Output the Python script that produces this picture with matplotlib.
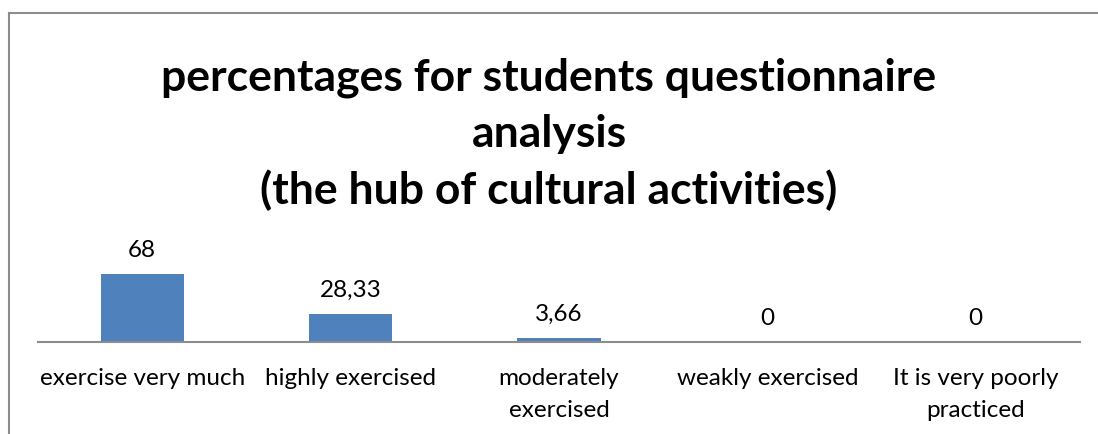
import matplotlib
matplotlib.use("Agg")
import matplotlib.pyplot as plt
from matplotlib.lines import Line2D

categories = ["exercise very much", "highly exercised", "moderately\nexercised",
              "weakly exercised", "It is very poorly\npracticed"]
values = [68, 28.33, 3.66, 0, 0]
value_labels = ["68", "28,33", "3,66", "0", "0"]
title = "percentages for students questionnaire\nanalysis\n(the hub of cultural activities)"

W, H = 1098, 434
fig = plt.figure(figsize=(W / 100, H / 100), dpi=100)
plt.rcParams['font.family'] = ['Lato', 'DejaVu Sans']

# frame (partial chart border)
fig.add_artist(Line2D([8.5 / W, 8.5 / W], [0, 1 - 12.5 / H], transform=fig.transFigure,
                      color='#8c8c8c', lw=1.5))
fig.add_artist(Line2D([8.5 / W, 1], [1 - 12.5 / H, 1 - 12.5 / H], transform=fig.transFigure,
                      color='#8c8c8c', lw=1.5))

left, right = 38 / W, 1080 / W
base = 342
top = 262
ax = fig.add_axes([left, (H - base) / H, right - left, (base - top) / H])
x = range(len(categories))
ax.bar(x, values, width=0.4, color='#4f81bd')
ax.set_xlim(-0.5, len(categories) - 0.5)
ax.set_ylim(0, 80)
for xi, v, lab in zip(x, values, value_labels):
    ax.annotate(lab, (xi, v), xytext=(0, 9.5), textcoords='offset points',
                ha='center', va='bottom', fontsize=17.5)
ax.set_xticks(list(x))
ax.set_xticklabels(categories, fontsize=17.5, linespacing=1.62)
ax.tick_params(axis='x', length=0, pad=19)
ax.set_yticks([])
for s in ['left', 'right', 'top']:
    ax.spines[s].set_visible(False)
ax.spines['bottom'].set_color('#8c8c8c')
ax.spines['bottom'].set_linewidth(1.5)

fig.text(549 / W, 1 - 134.5 / H, title, ha='center', va='center', fontsize=32,
         fontweight='bold', linespacing=1.46)

fig.savefig('out.png', dpi=100)
